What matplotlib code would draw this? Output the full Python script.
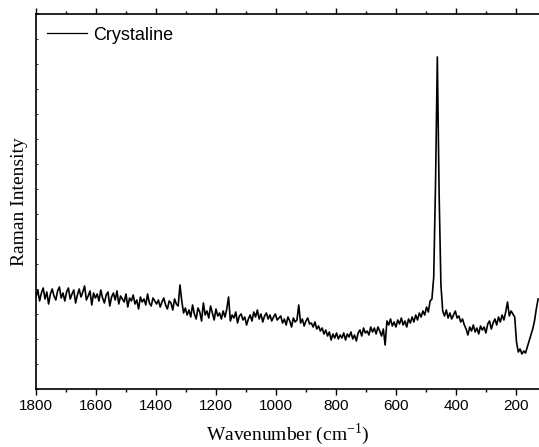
import numpy as np
import matplotlib
matplotlib.use("Agg")
from matplotlib import pyplot as plt
from matplotlib.ticker import MultipleLocator

# 拉曼光谱数据 (波数从 1800 到 126, 步长 6 cm^-1)
wavenumber = np.arange(1800, 120, -6)

# 强度 (任意单位), 每行 17 个点, 从图中逐段读取
intensity = [
    92, 99, 88, 96, 101, 90, 97, 85, 95, 100, 93, 89, 98, 102, 91, 96, 88,      # 1800-1704
    97, 101, 90, 95, 99, 86, 94, 100, 92, 97, 103, 89, 93, 98, 84, 96, 91,      # 1698-1602
    95, 88, 99, 91, 86, 94, 97, 83, 92, 96, 89, 98, 85, 93, 90, 87, 95,         # 1596-1500
    82, 91, 88, 94, 85, 89, 80, 92, 87, 90, 84, 95, 86, 83, 91, 88, 85,         # 1494-1398
    89, 82, 87, 91, 84, 80, 88, 86, 79, 90, 85, 83, 104, 88, 76, 81, 74,        # 1392-1296
    79, 72, 84, 75, 70, 81, 77, 68, 86, 74, 78, 71, 83, 76, 69, 80, 73,         # 1290-1194
    76, 70, 78, 72, 80, 92, 68, 74, 71, 77, 66, 73, 75, 69, 72, 64, 70,         # 1188-1092
    74, 68, 77, 72, 79, 70, 75, 67, 73, 76, 70, 74, 68, 72, 75, 69, 71,         # 1086-990
    73, 66, 70, 64, 72, 68, 62, 71, 67, 69, 84, 66, 70, 63, 68, 71, 65,         # 984-888
    66, 62, 67, 60, 63, 58, 61, 55, 59, 53, 57, 49, 55, 51, 56, 50, 54,         # 882-786
    51, 56, 49, 55, 52, 57, 50, 54, 48, 56, 59, 53, 61, 56, 58, 54, 62,         # 780-684
    57, 61, 55, 62, 58, 53, 60, 44, 68, 64, 70, 63, 67, 62, 69, 65, 71,         # 678-582
    64, 68, 62, 70, 66, 72, 67, 74, 69, 76, 72, 78, 74, 82, 77, 88, 90,         # 576-480
    112, 205, 332, 195, 104, 78, 73, 79, 71, 76, 70, 74, 78, 71, 73, 67, 70,    # 474-378
    64, 60, 54, 62, 58, 64, 57, 61, 55, 63, 59, 62, 56, 65, 68, 60, 66,         # 372-276
    70, 64, 72, 67, 74, 69, 77, 87, 73, 78, 75, 72, 47, 37, 40, 35, 38,         # 270-174
    36, 42, 48, 54, 60, 68, 80, 90,                                             # 168-126
]

plt.rcParams['font.family'] = 'Liberation Sans'
plt.rcParams['mathtext.fontset'] = 'custom'
plt.rcParams['mathtext.rm'] = 'Liberation Serif'

fig = plt.figure(figsize = (5.39, 4.47), dpi = 100)
ax = fig.add_axes([36 / 539, 58 / 447, 503 / 539, 375 / 447])

ax.plot(wavenumber, intensity, color = 'black', linewidth = 1.2, label = 'Crystaline')

ax.set_xlim(1800, 123)
ax.set_ylim(0, 375)

ax.xaxis.set_major_locator(MultipleLocator(200))
ax.xaxis.set_minor_locator(MultipleLocator(100))
ax.yaxis.set_major_locator(MultipleLocator(25))
ax.tick_params(axis = 'x', which = 'major', direction = 'out', length = 4, width = 1,
               labelsize = 11, pad = 3, top = True)
ax.tick_params(axis = 'x', which = 'minor', direction = 'out', length = 2.5, width = 1, top = True)
ax.tick_params(axis = 'y', which = 'major', direction = 'in', length = 1.5, width = 0.6, labelleft = False)
ax.spines['right'].set_visible(False)
for side in ('left', 'bottom', 'top'):
    ax.spines[side].set_linewidth(1.2)

ax.set_xlabel(r'Wavenumber (cm$^{\mathregular{-1}}$)', fontfamily = 'Liberation Serif', fontsize = 14, labelpad = 6)
ax.set_ylabel('Raman Intensity', fontfamily = 'Liberation Serif', fontsize = 14, labelpad = 6)

leg = ax.legend(loc = 'upper left', bbox_to_anchor = (0.022, 0.966), frameon = False, fontsize = 13,
                handlelength = 2.2, handletextpad = 0.35, borderpad = 0, borderaxespad = 0)
for line in leg.get_lines():
    line.set_linewidth(0.9)

fig.savefig('out.png', dpi = 100)
